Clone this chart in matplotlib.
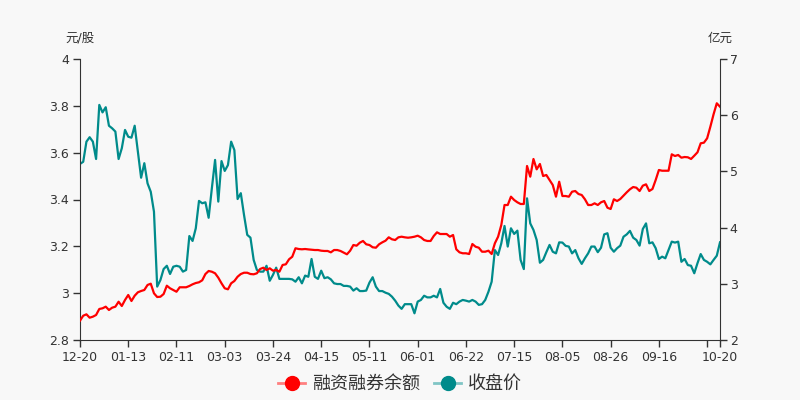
import numpy as np
import matplotlib as mpl
mpl.use('Agg')
import matplotlib.pyplot as plt
from matplotlib.lines import Line2D

plt.rcParams['font.family'] = ['DejaVu Sans', 'Noto Sans CJK SC']

# x labels, one every 15 trading days; last label is the final day
tick_labels = ['12-20', '01-13', '02-11', '03-03', '03-24', '04-15', '05-11',
               '06-01', '06-22', '07-15', '08-05', '08-26', '09-16', '', '10-20']

# closing price (元/股)
close = [
    3.552, 3.561, 3.647, 3.666, 3.647, 3.573, 3.804, 3.772, 3.794, 3.715,
    3.704, 3.690, 3.573, 3.619, 3.697, 3.668, 3.664, 3.715, 3.604, 3.493,
    3.555, 3.469, 3.433, 3.348, 3.028, 3.056, 3.103, 3.117, 3.082, 3.113,
    3.117, 3.113, 3.092, 3.099, 3.244, 3.223, 3.277, 3.394, 3.384, 3.388,
    3.322, 3.448, 3.569, 3.391, 3.564, 3.522, 3.547, 3.647, 3.611, 3.402,
    3.427, 3.334, 3.249, 3.237, 3.142, 3.099, 3.092, 3.092, 3.117, 3.053,
    3.078, 3.109, 3.061, 3.061, 3.061, 3.061, 3.059, 3.049, 3.068, 3.042,
    3.075, 3.070, 3.146, 3.070, 3.061, 3.096, 3.064, 3.068, 3.059, 3.042,
    3.039, 3.039, 3.031, 3.031, 3.028, 3.011, 3.021, 3.009, 3.009, 3.011,
    3.045, 3.068, 3.028, 3.009, 3.009, 3.002, 2.997, 2.985, 2.968, 2.947,
    2.933, 2.953, 2.953, 2.953, 2.914, 2.964, 2.971, 2.989, 2.982, 2.982,
    2.989, 2.982, 3.018, 2.959, 2.942, 2.933, 2.959, 2.953, 2.964, 2.971,
    2.968, 2.964, 2.971, 2.964, 2.950, 2.953, 2.971, 3.006, 3.049, 3.184,
    3.163, 3.213, 3.287, 3.199, 3.277, 3.253, 3.267, 3.142, 3.103, 3.405,
    3.298, 3.270, 3.227, 3.130, 3.142, 3.175, 3.206, 3.177, 3.170, 3.217,
    3.216, 3.202, 3.199, 3.170, 3.184, 3.149, 3.125, 3.149, 3.170, 3.199,
    3.199, 3.175, 3.194, 3.251, 3.256, 3.194, 3.177, 3.192, 3.203, 3.241,
    3.251, 3.266, 3.237, 3.227, 3.203, 3.274, 3.298, 3.213, 3.217, 3.192,
    3.146, 3.156, 3.149, 3.184, 3.220, 3.216, 3.220, 3.134, 3.146, 3.120,
    3.117, 3.085, 3.128, 3.167, 3.142, 3.134, 3.123, 3.142, 3.160, 3.217,
]

# margin trading balance (亿元)
margin = [
    2.344, 2.432, 2.457, 2.397, 2.415, 2.445, 2.552, 2.564, 2.593, 2.534,
    2.575, 2.593, 2.681, 2.605, 2.712, 2.801, 2.694, 2.788, 2.849, 2.872,
    2.890, 2.979, 3.002, 2.831, 2.765, 2.770, 2.818, 2.966, 2.920, 2.890,
    2.859, 2.938, 2.938, 2.938, 2.961, 2.991, 3.014, 3.027, 3.062, 3.174,
    3.228, 3.215, 3.187, 3.109, 3.009, 2.920, 2.902, 3.009, 3.050, 3.126,
    3.174, 3.197, 3.197, 3.174, 3.169, 3.187, 3.263, 3.286, 3.246, 3.276,
    3.233, 3.246, 3.215, 3.335, 3.347, 3.436, 3.482, 3.632, 3.619, 3.614,
    3.619, 3.612, 3.607, 3.601, 3.601, 3.589, 3.584, 3.584, 3.560, 3.601,
    3.601, 3.584, 3.555, 3.525, 3.589, 3.690, 3.678, 3.731, 3.762, 3.703,
    3.690, 3.650, 3.642, 3.703, 3.738, 3.767, 3.827, 3.792, 3.779, 3.827,
    3.838, 3.827, 3.820, 3.827, 3.838, 3.856, 3.827, 3.779, 3.762, 3.762,
    3.851, 3.916, 3.886, 3.886, 3.886, 3.838, 3.868, 3.614, 3.560, 3.543,
    3.543, 3.530, 3.708, 3.660, 3.642, 3.571, 3.571, 3.589, 3.530, 3.721,
    3.838, 4.046, 4.402, 4.402, 4.550, 4.491, 4.450, 4.420, 4.420, 5.096,
    4.906, 5.221, 5.037, 5.132, 4.918, 4.936, 4.847, 4.758, 4.550, 4.817,
    4.562, 4.562, 4.550, 4.639, 4.651, 4.598, 4.580, 4.504, 4.402, 4.402,
    4.432, 4.402, 4.450, 4.473, 4.354, 4.331, 4.504, 4.473, 4.509, 4.568,
    4.628, 4.682, 4.722, 4.710, 4.651, 4.746, 4.770, 4.651, 4.687, 4.847,
    5.025, 5.012, 5.012, 5.012, 5.304, 5.274, 5.292, 5.244, 5.256, 5.251,
    5.221, 5.279, 5.340, 5.500, 5.511, 5.589, 5.795, 6.016, 6.212, 6.151,
]

RED = '#ff0000'
TEAL = '#008b8b'
BG = '#f8f8f8'
AX = '#333333'

n = len(close)
x = np.arange(n)

fig = plt.figure(figsize=(8, 4), dpi=100, facecolor=BG)
ax = fig.add_axes([0.1, 0.15, 0.8, 0.7025])
ax.set_facecolor(BG)
ax2 = ax.twinx()

ax.plot(x, close, color=TEAL, lw=1.6)
ax2.plot(x, margin, color=RED, lw=1.6)

ax.set_xlim(0, n - 1)
ax.set_ylim(2.8, 4)
ax2.set_ylim(2, 7)
ax.set_yticks(np.arange(2.8, 4.01, 0.2))
ax.set_yticklabels(['%g' % round(v, 1) for v in np.arange(2.8, 4.01, 0.2)])
ax2.set_yticks(range(2, 8))

ticks = list(range(0, n, 15)) + [n - 1]
ax.set_xticks(ticks)
ax.set_xticklabels(tick_labels)

for a in (ax, ax2):
    a.spines['top'].set_visible(False)
    for s in a.spines.values():
        s.set_color(AX)
    a.tick_params(colors=AX, labelsize=9, length=5, width=1)
ax.spines['right'].set_visible(False)
ax2.spines['left'].set_visible(False)
ax2.spines['bottom'].set_visible(False)
ax.tick_params(axis='y', pad=3)
ax2.tick_params(axis='y', pad=2)
ax.tick_params(axis='x', pad=3)

ax.text(0, 1.075, '元/股', transform=ax.transAxes, ha='center', va='center',
        fontsize=9, color=AX)
ax.text(1, 1.075, '亿元', transform=ax.transAxes, ha='center', va='center',
        fontsize=9, color=AX)

handles = [
    Line2D([], [], color='#ff8080', lw=2, marker='o', markersize=10,
           markerfacecolor=RED, markeredgecolor=RED),
    Line2D([], [], color='#80c5c5', lw=2, marker='o', markersize=10,
           markerfacecolor=TEAL, markeredgecolor=TEAL),
]
fig.legend(handles, ['融资融券余额', '收盘价'], loc='center',
           bbox_to_anchor=(0.5, 0.04), ncol=2, frameon=False,
           fontsize=13, handlelength=1.5, handletextpad=0.35,
           columnspacing=0.8, labelcolor='#333333')

fig.savefig('out.png', dpi=100, facecolor=BG)
